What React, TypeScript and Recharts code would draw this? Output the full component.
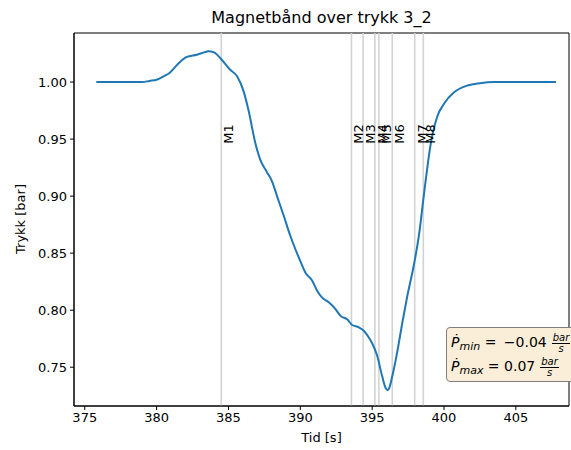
import React from "react";
import {
  LineChart,
  Line,
  XAxis,
  YAxis,
  ReferenceLine,
  ReferenceDot,
  ReferenceArea,
} from "recharts";

// pressure trace (time in s, pressure in bar)
const times = [
  375.8, 377.0, 378.0, 379.0, 379.5, 380.0, 380.5, 380.9, 381.5, 382.1, 382.8, 383.3,
  383.6, 384.0, 384.5, 385.1, 385.6, 386.05, 386.4, 386.86, 387.21, 387.68, 388.03,
  388.38, 388.84, 389.31, 390.0, 390.35, 390.82, 391.17, 391.52, 391.98, 392.45, 392.8,
  393.26, 393.61, 394.07, 394.42, 394.77, 395.0, 395.35, 395.7, 395.93, 396.05, 396.16,
  396.4, 396.74, 397.1, 397.44, 397.91, 398.26, 398.61, 399.08, 399.54, 400.0, 400.7,
  401.64, 402.5, 403.5, 405.0, 407.8,
];
const pressure = [
  1.0, 1.0, 1.0, 1.0, 1.001, 1.002, 1.005, 1.008, 1.016, 1.022, 1.024, 1.026,
  1.027, 1.026, 1.02, 1.011, 1.005, 0.992, 0.975, 0.947, 0.932, 0.921, 0.913,
  0.9, 0.883, 0.865, 0.843, 0.833, 0.826, 0.817, 0.811, 0.807, 0.801, 0.795,
  0.792, 0.787, 0.785, 0.782, 0.776, 0.771, 0.76, 0.742, 0.732, 0.73, 0.731,
  0.742, 0.763, 0.789, 0.812, 0.84, 0.866, 0.902, 0.946, 0.97, 0.981, 0.991,
  0.997, 0.999, 1.0, 1.0, 1.0,
];

const markerNames = ["M1", "M2", "M3", "M4", "M5", "M6", "M7", "M8"];
const markerTimes = [384.5, 393.56, 394.37, 395.19, 395.47, 396.4, 397.96, 398.56];
const markerLabelY = 0.946;

const xTicks = [375, 380, 385, 390, 395, 400, 405];
const yTicks = [0.75, 0.8, 0.85, 0.9, 0.95, 1.0];

const xDomain = [374.25, 408.7];
const yDomain = [0.716, 1.043];

const data = times.map((t, i) => ({ t, p: pressure[i] }));

const FONT = "DejaVu Sans, sans-serif";
const tickStyle = { fill: "#000", fontSize: 13, fontFamily: FONT };

const MarkerText = (name: string) => (props: any) => {
  const { cx, cy } = props;
  const x = cx + 12;
  return (
    <text
      x={x}
      y={cy}
      transform={`rotate(-90, ${x}, ${cy})`}
      fontSize={13}
      fontFamily={FONT}
      fill="#000"
    >
      {name}
    </text>
  );
};

const Frac = () => (
  <span
    style={{
      display: "inline-flex",
      flexDirection: "column",
      alignItems: "center",
      fontSize: 10,
      fontStyle: "italic",
      lineHeight: "10px",
      verticalAlign: "middle",
      marginLeft: 5,
    }}
  >
    <span style={{ borderBottom: "1px solid #000", padding: "0 1px" }}>bar</span>
    <span>s</span>
  </span>
);

const PDot = ({ sub }: { sub: string }) => (
  <span>
    <span style={{ fontStyle: "italic" }}>Ṗ</span>
    <span style={{ fontStyle: "italic", fontSize: 11, position: "relative", top: 3 }}>
      {sub}
    </span>
  </span>
);

export default function App() {
  return (
    <div
      style={{
        position: "absolute",
        left: 0,
        top: 0,
        width: 571,
        height: 450,
        background: "#fff",
        fontFamily: FONT,
        overflow: "hidden",
      }}
    >
      <div
        style={{
          position: "absolute",
          top: 8,
          left: 74,
          width: 495,
          textAlign: "center",
          fontSize: 16,
        }}
      >
        Magnetbånd over trykk 3_2
      </div>
      <div
        style={{
          position: "absolute",
          top: 430,
          left: 74,
          width: 495,
          textAlign: "center",
          fontSize: 13,
        }}
      >
        Tid [s]
      </div>
      <div
        style={{
          position: "absolute",
          left: 20,
          top: 219,
          fontSize: 13,
          transform: "translate(-50%, -50%) rotate(-90deg)",
          whiteSpace: "nowrap",
        }}
      >
        Trykk [bar]
      </div>
      <LineChart
        width={571}
        height={450}
        data={data}
        margin={{ top: 33, right: 2, bottom: 14, left: 0 }}
      >
        <XAxis
          dataKey="t"
          type="number"
          domain={xDomain}
          ticks={xTicks}
          tick={tickStyle}
          tickSize={4}
          tickMargin={3}
          height={30}
          stroke="#000"
          allowDataOverflow
        />
        <YAxis
          type="number"
          domain={yDomain}
          ticks={yTicks}
          tickFormatter={(v: number) => v.toFixed(2)}
          tick={tickStyle}
          tickSize={4}
          tickMargin={3}
          width={74}
          stroke="#000"
          allowDataOverflow
        />
        {markerTimes.map((m, i) => (
          <ReferenceLine
            key={markerNames[i]}
            x={m}
            stroke="#d3d3d3"
            strokeWidth={1.6}
          />
        ))}
        <Line
          type="monotone"
          dataKey="p"
          stroke="#1f77b4"
          strokeWidth={2}
          dot={false}
          isAnimationActive={false}
        />
        {markerTimes.map((m, i) => (
          <ReferenceDot
            key={"lbl" + markerNames[i]}
            x={m}
            y={markerLabelY}
            shape={MarkerText(markerNames[i])}
          />
        ))}
        <ReferenceArea
          x1={xDomain[0]}
          x2={xDomain[1]}
          y1={yDomain[0]}
          y2={yDomain[1]}
          fill="none"
          fillOpacity={0}
          stroke="#000"
          strokeWidth={1}
          ifOverflow="visible"
        />
      </LineChart>
      <div
        style={{
          position: "absolute",
          left: 446,
          top: 327,
          width: 140,
          height: 55,
          background: "#faeed9",
          border: "1.3px solid #7f7f7f",
          borderRadius: 4,
          boxSizing: "border-box",
          fontSize: 14,
          padding: "3px 0 0 4px",
          lineHeight: "23px",
          whiteSpace: "nowrap",
        }}
      >
        <div>
          <PDot sub="min" /> = <span style={{ marginLeft: 3 }}>−0.04</span>
          <Frac />
        </div>
        <div>
          <PDot sub="max" /> = 0.07
          <Frac />
        </div>
      </div>
    </div>
  );
}
